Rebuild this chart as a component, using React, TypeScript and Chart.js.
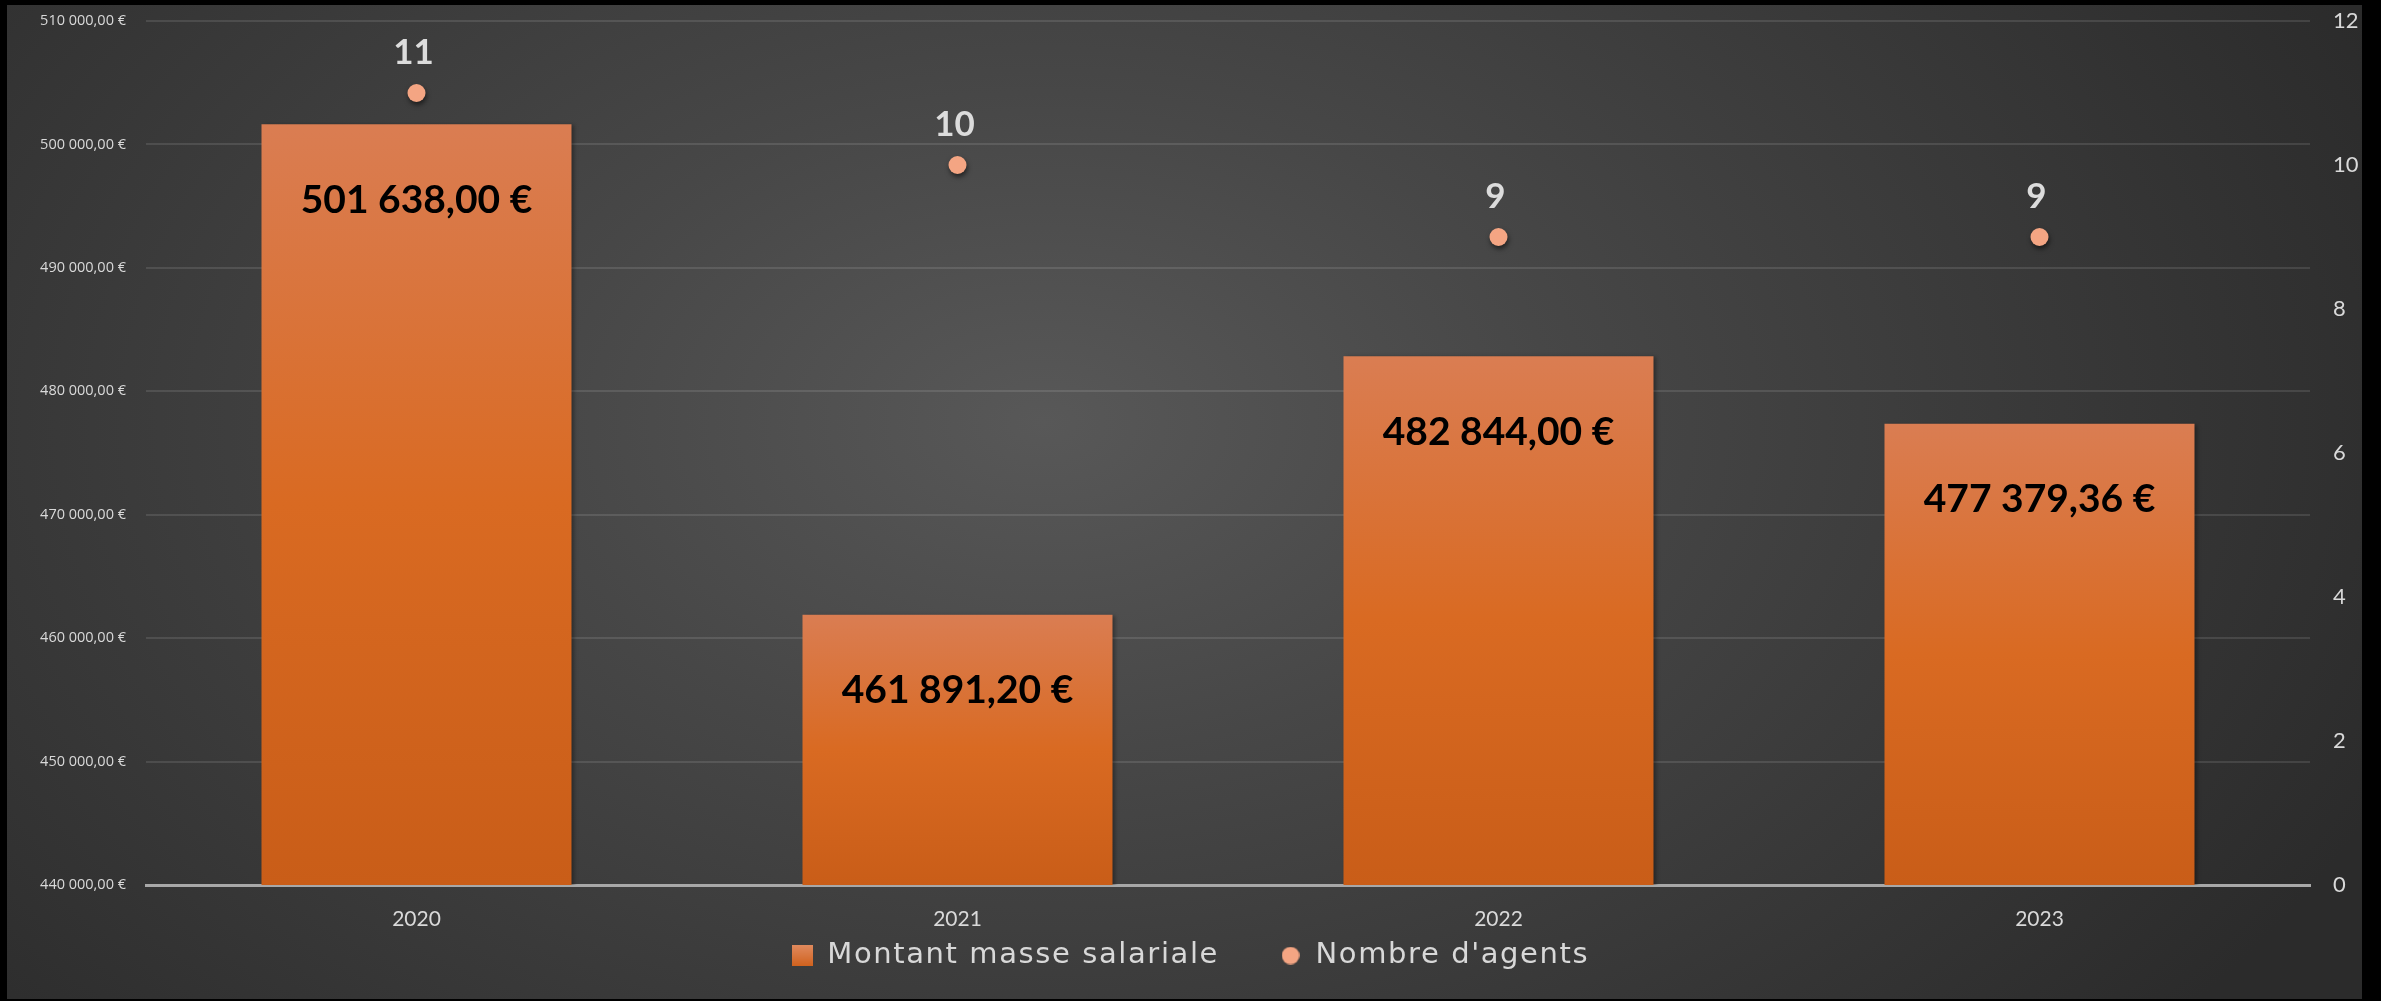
import React, { useEffect, useRef } from "react";
import { Chart, registerables } from "chart.js";

Chart.register(...registerables);

// ---------- data ----------
const categories = ["2020", "2021", "2022", "2023"];
const salaryMass = [501638.0, 461891.2, 482844.0, 477379.36];
const agentCount = [11, 10, 9, 9];
const salaryLabel = "Montant masse salariale";
const agentLabel = "Nombre d'agents";
const leftMin = 440000;
const leftMax = 510000;
const leftStep = 10000;
const rightMin = 0;
const rightMax = 12;
const rightStep = 2;

// ---------- helpers ----------
function formatEuro(v: number): string {
  const fixed = Math.abs(v).toFixed(2);
  const [intPart, dec] = fixed.split(".");
  const grouped = intPart.replace(/\B(?=(\d{3})+(?!\d))/g, " ");
  return (v < 0 ? "-" : "") + grouped + "," + dec + " €";
}

const W = 2355;
const H = 994;

function makeSquareIcon(): HTMLCanvasElement {
  const c = document.createElement("canvas");
  c.width = 21;
  c.height = 21;
  const x = c.getContext("2d")!;
  const g = x.createLinearGradient(0, 0, 0, 21);
  g.addColorStop(0, "#e08a5e");
  g.addColorStop(1, "#d0621e");
  x.fillStyle = g;
  x.fillRect(0, 0, 21, 21);
  return c;
}

function makeCircleIcon(): HTMLCanvasElement {
  const c = document.createElement("canvas");
  c.width = 18;
  c.height = 18;
  const x = c.getContext("2d")!;
  x.fillStyle = "#f4a583";
  x.beginPath();
  x.arc(9, 9, 8.8, 0, Math.PI * 2);
  x.fill();
  return c;
}

const LEGEND_SPACING = "1.6px";

const customPlugin = {
  id: "customLook",
  beforeLayout(chart: any) {
    const lg = chart.legend;
    if (lg && !lg.__patched) {
      lg.__patched = true;
      const wrap = (fn: any) =>
        function (this: any, ...a: any[]) {
          const c = this.ctx;
          const prev = c.letterSpacing;
          c.letterSpacing = LEGEND_SPACING;
          try {
            return fn.apply(this, a);
          } finally {
            c.letterSpacing = prev;
          }
        };
      lg.fit = wrap(lg.fit);
      lg.draw = wrap(lg.draw);
    }
  },
  afterLayout(chart: any) {
    const area = chart.chartArea;
    const x = chart.scales.x;
    if (x) {
      x.bottom = x.top + 60;
      x.height = 60;
    }
    const lg = chart.legend;
    if (lg) {
      const h = lg.height;
      lg.top = area.bottom - 5;
      lg.bottom = lg.top + h;
      lg.left += 6;
      lg.right += 6;
    }
  },
  beforeDatasetDraw(chart: any, args: any) {
    const ctx = chart.ctx;
    ctx.save();
    if (args.index === 0) {
      ctx.shadowColor = "rgba(0,0,0,0.35)";
      ctx.shadowOffsetX = 3;
      ctx.shadowOffsetY = 1;
      ctx.shadowBlur = 4;
    } else {
      ctx.shadowColor = "rgba(0,0,0,0.55)";
      ctx.shadowOffsetX = 1;
      ctx.shadowOffsetY = 3;
      ctx.shadowBlur = 5;
    }
  },
  afterDatasetDraw(chart: any) {
    chart.ctx.restore();
  },
  afterDatasetsDraw(chart: any) {
    const ctx = chart.ctx;
    ctx.save();
    ctx.textAlign = "center";
    ctx.textBaseline = "middle";
    // bar value labels
    const barMeta = chart.getDatasetMeta(0);
    ctx.fillStyle = "#000000";
    ctx.font = "bold 39px Lato";
    barMeta.data.forEach((el: any, i: number) => {
      ctx.fillText(formatEuro(salaryMass[i]), el.x, el.y + 76);
    });
    // point value labels
    const ptMeta = chart.getDatasetMeta(1);
    ctx.fillStyle = "#dcdcdc";
    ctx.font = "bold 35px Lato";
    ptMeta.data.forEach((el: any, i: number) => {
      ctx.fillText(String(agentCount[i]), el.x - 3, el.y - 40);
    });
    ctx.restore();
  },
};

export default function App() {
  const ref = useRef<HTMLCanvasElement>(null);

  useEffect(() => {
    if (!ref.current) return;
    const squareIcon = makeSquareIcon();
    const circleIcon = makeCircleIcon();

    const chart = new Chart(ref.current, {
      data: {
        labels: categories,
        datasets: [
          {
            type: "bar",
            label: salaryLabel,
            data: salaryMass,
            yAxisID: "y",
            order: 1,
            barPercentage: 0.573,
            categoryPercentage: 1,
            backgroundColor: (c: any) => {
              const chart = c.chart;
              const area = chart.chartArea;
              if (!area || c.type !== "data" || !chart.scales.y) return "#d96a20";
              const top = chart.scales.y.getPixelForValue(c.raw);
              const g = chart.ctx.createLinearGradient(0, top, 0, area.bottom);
              g.addColorStop(0, "#da7d52");
              g.addColorStop(0.5, "#d96a22");
              g.addColorStop(1, "#c95d18");
              return g;
            },
            borderWidth: 0,
          } as any,
          {
            type: "line",
            label: agentLabel,
            data: agentCount,
            yAxisID: "y1",
            showLine: false,
            pointRadius: 9,
            pointHoverRadius: 9,
            pointBackgroundColor: "#f4a583",
            pointBorderWidth: 0,
            order: 0,
          } as any,
        ],
      },
      options: {
        responsive: false,
        animation: false,
        devicePixelRatio: 1,
        layout: { padding: 0 },
        plugins: {
          tooltip: { enabled: false },
          legend: {
            position: "bottom",
            labels: {
              color: "#d8d8d8",
              font: { family: "DejaVu Sans", size: 29 },
              usePointStyle: true,
              boxWidth: 21,
              boxHeight: 21,
              padding: 61,
              generateLabels: () => [
                {
                  text: salaryLabel,
                  fillStyle: "#d96a20",
                  strokeStyle: "transparent",
                  lineWidth: 0,
                  pointStyle: squareIcon,
                  hidden: false,
                  datasetIndex: 0,
                  fontColor: "#d8d8d8",
                } as any,
                {
                  text: agentLabel,
                  fillStyle: "#f4a583",
                  strokeStyle: "transparent",
                  lineWidth: 0,
                  pointStyle: circleIcon,
                  hidden: false,
                  datasetIndex: 1,
                  fontColor: "#d8d8d8",
                } as any,
              ],
            },
          },
        },
        scales: {
          x: {
            grid: { display: false, drawTicks: false },
            border: { display: true, color: "#a8a8a8", width: 3 },
            ticks: {
              color: "#d9d9d9",
              font: { family: "Lato", size: 21 },
              padding: 22,
            },
            afterFit: (s: any) => {
              s.height = 0;
            },
          },
          y: {
            position: "left",
            min: leftMin,
            max: leftMax,
            grid: {
              color: "rgba(255,255,255,0.11)",
              lineWidth: 2,
              drawTicks: false,
            },
            border: { display: false },
            ticks: {
              stepSize: leftStep,
              color: "#d9d9d9",
              font: { family: "Open Sans", size: 14.5 },
              padding: 20,
              callback: (v: any) => formatEuro(Number(v)),
            },
            afterFit: (s: any) => {
              s.width = 139;
              s.paddingTop = 16;
              s.paddingBottom = 114;
            },
          },
          y1: {
            position: "right",
            min: rightMin,
            max: rightMax,
            grid: { display: false, drawTicks: false },
            border: { display: false },
            ticks: {
              stepSize: rightStep,
              color: "#d9d9d9",
              font: { family: "Lato", size: 22 },
              padding: 23,
            },
            afterFit: (s: any) => {
              s.width = 52;
              s.paddingTop = 16;
              s.paddingBottom = 20;
            },
          },
        },
      } as any,
      plugins: [customPlugin],
    });
    return () => chart.destroy();
  }, []);

  return (
    <div
      style={{
        position: "absolute",
        left: 0,
        top: 0,
        width: 2381,
        height: 1001,
        background: "#000",
        overflow: "hidden",
      }}
    >
      <div
        style={{
          position: "absolute",
          left: 7,
          top: 5,
          width: W,
          height: H,
          background:
            "radial-gradient(ellipse 62% 95% at 44% 42%, #585858 0%, #474747 35%, #2b2b2b 100%)",
        }}
      >
        <canvas ref={ref} width={W} height={H} style={{ display: "block" }} />
      </div>
    </div>
  );
}
